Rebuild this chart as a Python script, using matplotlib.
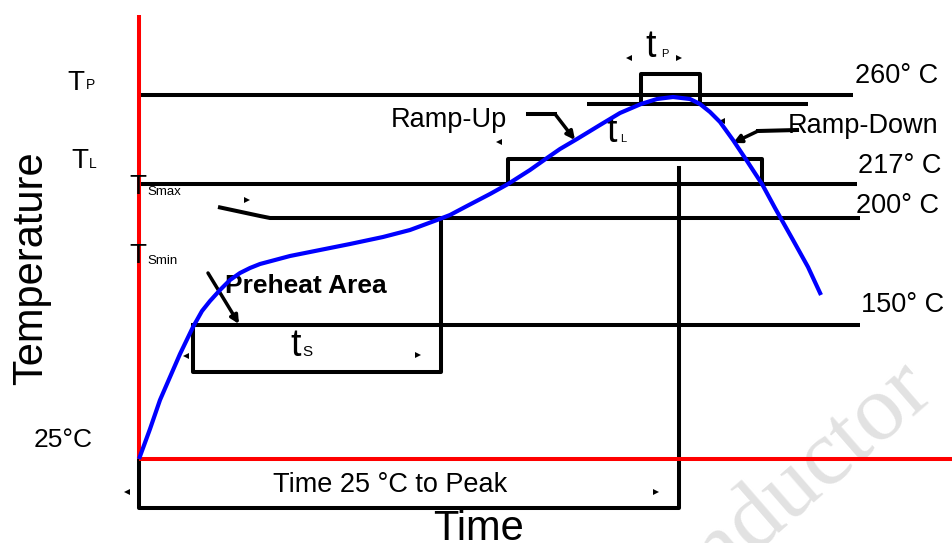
import matplotlib
matplotlib.use('Agg')
import matplotlib.pyplot as plt

plt.rcParams['font.family'] = ['Liberation Sans', 'DejaVu Sans']

# ---- schematic reflow profile (diagram units: x = time, y = temperature height, y grows downward) ----
profile_time = [139, 150, 160, 170, 180, 193, 202, 210, 220, 230, 240, 250, 260, 275, 290, 320,
                350, 383, 410, 437, 450, 467, 490, 508, 530, 547, 560, 577, 600, 620, 641, 657,
                673, 690, 700, 710, 720, 733, 747, 762, 775, 793, 808, 821]
profile_temp = [459, 429, 400, 377, 354, 327, 311, 301, 290, 280, 273, 268, 264, 260, 256, 250,
                244, 237, 230, 220, 215, 206, 194, 184, 170, 158, 149, 139, 125, 113, 104, 99,
                97, 99, 104, 112, 122, 140, 161, 184, 208, 240, 267, 295]

level_labels = ['260° C', '217° C', '200° C', '150° C']
level_height = [95, 184, 218, 325]
base_height = 459          # 25 °C
t_start, t_ts_end, t_l_start, t_p_start, t_p_end, t_peak, t_l_end = 139, 441, 508, 641, 700, 679, 762

fig = plt.figure(figsize=(9.52, 5.43), dpi=100)
ax = fig.add_axes([0, 0, 1, 1])
ax.set_xlim(0, 952)
ax.set_ylim(543, 0)
ax.axis('off')

K = 'black'
LW = 2.9

# watermark
ax.text(935, 392, 'Semiconductor', rotation=41, rotation_mode='anchor', ha='right', va='baseline',
        fontsize=68, color='#e2e2e2', family=['Liberation Serif', 'DejaVu Serif'], zorder=0)

# red axes
ax.plot([t_start, t_start], [15, base_height], color='red', lw=2.9, solid_capstyle='butt', zorder=3)
ax.plot([t_start, 952], [base_height, base_height], color='red', lw=2.9, solid_capstyle='butt', zorder=3)

# level lines
ax.plot([t_start, 853], [level_height[0]] * 2, color=K, lw=LW, solid_capstyle='butt')
ax.plot([587, 808], [104, 104], color=K, lw=LW, solid_capstyle='butt')
ax.plot([t_start, 857], [level_height[1]] * 2, color=K, lw=LW, solid_capstyle='butt')
ax.plot([218, 260, 270, 860], [207, 216, level_height[2], level_height[2]], color=K, lw=LW, solid_capstyle='butt')
ax.plot([193, 860], [level_height[3]] * 2, color=K, lw=LW, solid_capstyle='butt')

# tp bracket
ax.plot([t_p_start, t_p_start, t_p_end, t_p_end], [104, 74, 74, 104], color=K, lw=LW)
# tL bracket
ax.plot([t_l_start, t_l_start, t_l_end, t_l_end], [level_height[1], 159, 159, level_height[1]], color=K, lw=LW)
# ts bracket
ax.plot([193, 193, t_ts_end, t_ts_end], [level_height[3], 372, 372, level_height[2]], color=K, lw=LW)
# time-to-peak bracket
ax.plot([t_start, t_start, t_peak, t_peak], [base_height, 508, 508, 168], color=K, lw=LW)

# small arrow heads / ticks
for x, y, m in [(629, 58, '<'), (679, 58, '>'), (186, 356, '<'), (418, 355, '>'),
                (127, 492, '<'), (656, 492, '>'), (247, 200, '>'), (499, 142, '<'),
                (722, 121, '<')]:
    ax.plot(x, y, marker=m, color=K, ms=4, mew=0)

# leaders with arrows
ax.annotate('', xy=(239, 324), xytext=(208, 273),
            arrowprops=dict(arrowstyle='-|>', color=K, lw=2.5, mutation_scale=12, shrinkA=0, shrinkB=0))
ax.plot([528, 555], [114, 114], color=K, lw=LW)
ax.annotate('', xy=(575, 140), xytext=(555, 114),
            arrowprops=dict(arrowstyle='-|>', color=K, lw=2.5, mutation_scale=12, shrinkA=0, shrinkB=0))
ax.plot([797, 758], [130, 131], color=K, lw=LW)
ax.annotate('', xy=(733, 143), xytext=(758, 131),
            arrowprops=dict(arrowstyle='-|>', color=K, lw=2.5, mutation_scale=12, shrinkA=0, shrinkB=0))

# profile curve
ax.plot(profile_time, profile_temp, color='#0000ff', lw=3.0, zorder=5, solid_capstyle='butt',
        solid_joinstyle='round')

# right labels
for lab, x, y in zip(level_labels, [855, 858, 856, 861], [83, 173, 213, 312]):
    ax.text(x, y, lab, fontsize=19.5, ha='left', va='baseline')
ax.text(938, 133, 'Ramp-Down', fontsize=19.5, ha='right', va='baseline')
ax.text(391, 127, 'Ramp-Up', fontsize=19.5, ha='left', va='baseline')
ax.text(225, 293, 'Preheat Area', fontsize=19, fontweight='bold', ha='left', va='baseline')
ax.text(390, 492, 'Time 25 °C to Peak', fontsize=19.5, ha='center', va='baseline')
ax.text(479, 540, 'Time', fontsize=30, ha='center', va='baseline')
ax.text(31, 268, 'Temperature', fontsize=30, rotation=90, ha='center', va='center')
ax.text(34, 447, '25°C', fontsize=19, ha='left', va='baseline')

# left T labels
ax.text(67, 90, 'T', fontsize=20, va='baseline')
ax.text(86, 89, 'P', fontsize=10, va='baseline')
ax.text(71, 168, 'T', fontsize=20, va='baseline')
ax.text(89, 168, 'L', fontsize=10, va='baseline')
ax.text(129, 194, 'T', fontsize=20, va='baseline')
ax.text(147, 195, 'Smax', fontsize=9.5, va='baseline')
ax.text(129, 263, 'T', fontsize=20, va='baseline')
ax.text(147, 264, 'Smin', fontsize=9.5, va='baseline')

# t labels
ax.text(645, 57, 't', fontsize=27, va='baseline')
ax.text(661, 57, 'P', fontsize=8, va='baseline')
ax.text(606, 142, 't', fontsize=27, va='baseline')
ax.text(620, 142, 'L', fontsize=8, va='baseline')
ax.text(290, 356, 't', fontsize=27, va='baseline')
ax.text(302, 356, 'S', fontsize=11, va='baseline')

fig.savefig('out.png', dpi=100)
